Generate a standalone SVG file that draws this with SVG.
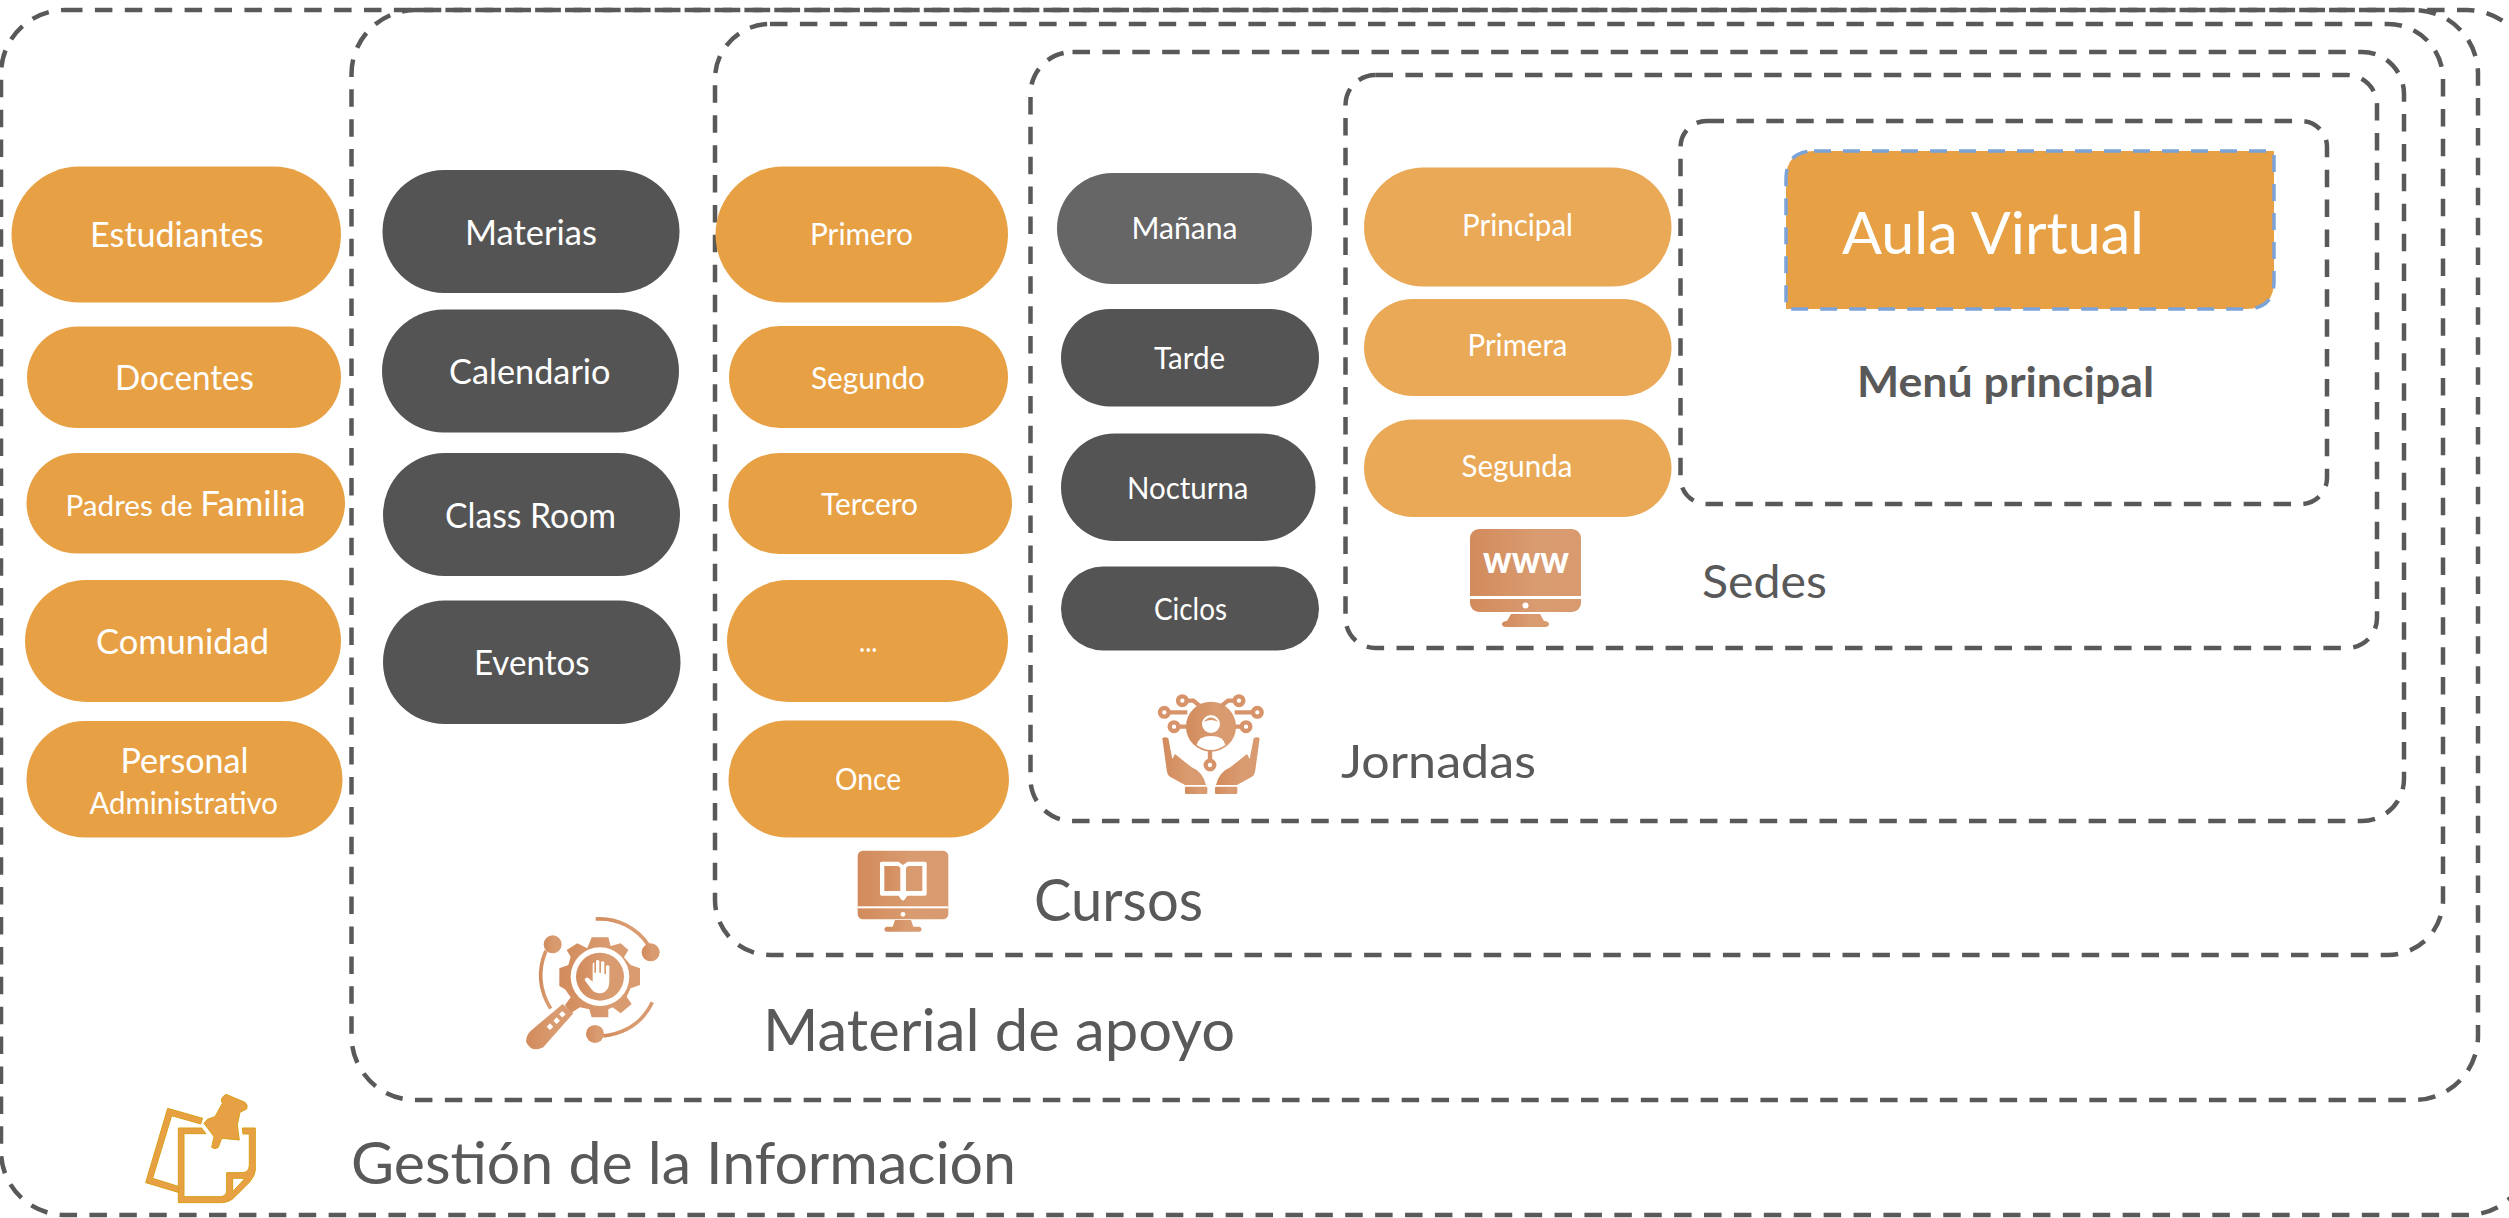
<svg xmlns="http://www.w3.org/2000/svg" width="2509" height="1218" viewBox="0 0 2509 1218">
<style>
text{font-family:"Lato","Liberation Sans",sans-serif;}
.frame{fill:none;stroke:#595959;stroke-width:4.5;stroke-dasharray:17.5 12.4;}
.o{fill:#E7A144;}.l{fill:#EAA957;}.d{fill:#545454;}.m{fill:#666666;}
.t{fill:#FFFFFF;font-size:35px;}
.s{fill:#FFFFFF;font-size:30px;}
.lab{fill:#595959;}
.ic{fill:url(#cop);}
.w{fill:#FFFFFF;}
.ln{fill:none;stroke:url(#cop);stroke-width:11;}
.pit{fill:#E7A144;stroke:#D8A018;stroke-width:3;}
</style>
<defs>
<linearGradient id="cop" x1="0" y1="0" x2="1" y2="0"><stop offset="0" stop-color="#D28B5C"/><stop offset="0.6" stop-color="#D99B70"/><stop offset="1" stop-color="#D89A6E"/></linearGradient>
</defs>
<rect width="2509" height="1218" fill="#FFFFFF"/>
<g id="connectors"></g>
<g id="gestion"><rect class="frame" x="1" y="10" width="2530" height="1205" rx="64"/>
<text class="lab" x="351" y="1184" font-size="59" textLength="665" lengthAdjust="spacingAndGlyphs">Gestión de la Información</text>
<g transform="translate(120,1060) scale(.3333)">
<path class="pit" d="M143 145L248 175L242 192L155 167L98 355L178 380V398L77 368Z"/>
<path class="pit" fill-rule="evenodd" d="M175 204H245L258 221H192V410H300Q320 410 320 390V338H365Q388 338 388 315V222H369L367 204H406V330Q406 345 390 365L345 410Q330 428 300 428H175ZM338 355H375L338 395Z"/>
<path class="pit" d="M318 103L375 127Q385 135 380 147L360 157L352 195L358 240L305 235L295 262Q285 270 275 262L282 230L252 190L262 178L285 170L307 130Q298 115 318 103Z"/>
</g></g>
<g id="material"><rect class="frame" x="351.5" y="10" width="2126.500" height="1090" rx="64"/>
<text class="lab" x="763" y="1051" font-size="59" textLength="472" lengthAdjust="spacingAndGlyphs">Material de apoyo</text>
<g transform="translate(500,900) scale(.3333)">
<path class="ic" d="M275 112H325L332 138L362 130L385 150L372 172L392 195L420 205V255L392 265L380 290L395 312L362 340L338 322L325 328V352H275L268 328L240 322L212 340L195 315L212 292L195 268L178 258V205L205 195L212 170L200 150L232 130L262 145Z"/>
<circle cx="300" cy="230" r="88" class="w"/>
<circle cx="300" cy="230" r="72" class="ic"/>
<path class="w" d="M278 195Q278 185 283 188V218H288V182Q293 178 298 182V218H303V186Q308 182 313 186V222H318V198Q323 194 328 198V245Q328 272 305 280H295Q280 278 270 262L254 240Q256 230 265 234L278 245Z"/>
<path class="ic" d="M188 312L220 340L130 442Q95 460 78 425Q78 405 95 390Z"/>
<g class="w"><rect x="143" y="373" width="14" height="14" transform="rotate(45 150 380)"/><rect x="163" y="355" width="14" height="14" transform="rotate(45 170 362)"/><rect x="180" y="336" width="14" height="14" transform="rotate(45 187 343)"/></g>
<path class="ln" d="M287 57A175 175 0 0 1 445 135"/><circle class="ic" cx="452" cy="157" r="27"/>
<circle class="ic" cx="158" cy="133" r="27"/><path class="ln" d="M138 152Q100 240 152 326"/>
<circle class="ic" cx="285" cy="402" r="27"/><path class="ln" d="M310 408Q415 395 457 307"/>
</g></g>
<g id="cursos"><rect class="frame" x="715" y="24" width="1728" height="931" rx="55"/>
<text class="lab" x="1034" y="921" font-size="58" textLength="169" lengthAdjust="spacingAndGlyphs">Cursos</text>
<g transform="translate(830,830) scale(.3333)">
<rect class="ic" x="83" y="62" width="272" height="206" rx="16"/>
<rect class="w" x="83" y="229" width="272" height="6"/>
<circle class="w" cx="219" cy="253" r="7"/>
<path class="ic" d="M195 270H243L250 290H268Q275 292 275 298Q275 305 268 305H170Q163 305 163 298Q163 292 170 290H188Z"/>
<path class="w" d="M150 100Q150 95 155 95H205L219 105L233 95H285Q290 95 290 100V192Q290 197 285 197H232L225 208Q219 215 213 208L206 197H155Q150 197 150 192Z"/>
<path class="ic" d="M163 108H205L211 113V183H163ZM277 108H235L228 113V183H277Z"/>
</g></g>
<g id="jornadas"><rect class="frame" x="1030.500" y="52" width="1373.500" height="769" rx="42"/>
<text class="lab" x="1341" y="778" font-size="47" textLength="195" lengthAdjust="spacingAndGlyphs">Jornadas</text>
<g transform="translate(1130,680) scale(.3333)">
<circle class="ic" cx="243" cy="140" r="75"/>
<circle class="w" cx="243" cy="132" r="27"/>
<path class="ic" d="M222 125Q243 100 264 125Q243 115 222 125Z"/>
<path class="w" d="M200 195Q205 168 243 168Q281 168 286 195Q243 225 200 195Z"/>
<g fill="none" stroke="#D7946A" stroke-width="13"><circle cx="157" cy="62" r="13"/><circle cx="327" cy="62" r="13"/><circle cx="103" cy="97" r="13"/><circle cx="382" cy="97" r="13"/><circle cx="132" cy="140" r="13"/><circle cx="348" cy="140" r="13"/><circle cx="240" cy="255" r="13"/>
<path d="M170 62H190L212 80M314 62H294L272 80M116 97H172M369 97H314M145 140H170M335 140H316M240 242V210"/></g>
<path class="ic" d="M97 175Q105 168 115 175L127 237L135 222L185 262Q218 275 228 315H165L120 290Q112 285 110 270Z"/>
<path class="ic" d="M389 175Q381 168 371 175L359 237L351 222L301 262Q268 275 258 315H321L366 290Q374 285 376 270Z"/>
<rect class="ic" x="165" y="320" width="67" height="22" rx="4"/><rect class="ic" x="255" y="320" width="67" height="22" rx="4"/>
</g></g>
<g id="sedes"><rect class="frame" x="1345.500" y="75" width="1031.500" height="573" rx="30"/>
<text class="lab" x="1702" y="598" font-size="47" textLength="125" lengthAdjust="spacingAndGlyphs">Sedes</text>
<g>
<rect class="ic" x="1470" y="529" width="111" height="83" rx="9"/>
<rect class="w" x="1470" y="596" width="111" height="3"/>
<circle class="w" cx="1525.500" cy="605.500" r="3"/>
<path class="ic" d="M1511 614H1540L1544 621H1545Q1549 622 1549 624Q1549 627 1545 627H1506Q1502 627 1502 624Q1502 622 1506 621H1507Z"/>
<text x="1483" y="573" font-size="38" font-weight="900" fill="#FFFFFF" textLength="86" lengthAdjust="spacingAndGlyphs">www</text>
</g></g>
<g id="menu"><rect class="frame" x="1680.500" y="121" width="646.500" height="383" rx="26"/>
<text class="lab" x="1857" y="397" font-size="42" font-weight="700" textLength="297" lengthAdjust="spacingAndGlyphs">Menú principal</text></g>
<g id="aula"><path d="M1814 151H2274V281Q2274 309 2246 309H1786V179Q1786 151 1814 151Z" fill="#E7A144" stroke="#7BA3D8" stroke-width="3.5" stroke-dasharray="17 12"/>
<text x="1842" y="254" font-size="59" fill="#FFFFFF" textLength="302" lengthAdjust="spacingAndGlyphs">Aula Virtual</text></g>

<g id="estudiantes"><rect class="o" x="11.500" y="166.500" width="329.500" height="136" rx="68"/><text class="t" x="90" y="247" textLength="173.500" lengthAdjust="spacingAndGlyphs">Estudiantes</text></g>
<g id="docentes"><rect class="o" x="27" y="326.500" width="314" height="101.500" rx="50.700"/><text class="t" x="115" y="390" textLength="139" lengthAdjust="spacingAndGlyphs">Docentes</text></g>
<g id="padres"><rect class="o" x="26.500" y="453" width="318.500" height="100.500" rx="50.200"/><text class="t" x="65.500" y="516" textLength="240" lengthAdjust="spacingAndGlyphs"><tspan font-size="29">Padres de </tspan><tspan font-size="34">Familia</tspan></text></g>
<g id="comunidad"><rect class="o" x="25" y="580" width="316" height="122" rx="61"/><text class="t" x="96" y="654" textLength="173" lengthAdjust="spacingAndGlyphs">Comunidad</text></g>
<g id="personal"><rect class="o" x="26.500" y="721" width="316" height="116.500" rx="58"/><text class="t" x="120.500" y="773" textLength="128" lengthAdjust="spacingAndGlyphs">Personal</text><text class="s" x="89.500" y="814" textLength="188.500" lengthAdjust="spacingAndGlyphs">Administrativo</text></g>

<g id="materias"><rect class="d" x="382.500" y="170" width="297" height="123" rx="61.500"/><text class="t" x="465" y="245" textLength="132" lengthAdjust="spacingAndGlyphs">Materias</text></g>
<g id="calendario"><rect class="d" x="382" y="309.500" width="297" height="123" rx="61.500"/><text class="t" x="449" y="384" textLength="161.500" lengthAdjust="spacingAndGlyphs">Calendario</text></g>
<g id="classroom"><rect class="d" x="383" y="453" width="297" height="123" rx="61.500"/><text class="t" x="445" y="528" textLength="171" lengthAdjust="spacingAndGlyphs">Class Room</text></g>
<g id="eventos"><rect class="d" x="383" y="600.500" width="297.500" height="123.500" rx="61.700"/><text class="t" x="474" y="675" textLength="115.500" lengthAdjust="spacingAndGlyphs">Eventos</text></g>

<g id="primero"><rect class="o" x="715.500" y="166.500" width="292.500" height="136" rx="68"/><text class="s" x="810" y="245" textLength="103" lengthAdjust="spacingAndGlyphs">Primero</text></g>
<g id="segundo"><rect class="o" x="729" y="326" width="279" height="102" rx="51"/><text class="s" x="811" y="389" textLength="114" lengthAdjust="spacingAndGlyphs">Segundo</text></g>
<g id="tercero"><rect class="o" x="728.500" y="453" width="283.500" height="101" rx="50.500"/><text class="s" x="821" y="515" textLength="97" lengthAdjust="spacingAndGlyphs">Tercero</text></g>
<g id="puntos"><rect class="o" x="727" y="580" width="281" height="122" rx="61"/><text class="s" x="859" y="652" textLength="18.500" lengthAdjust="spacingAndGlyphs">...</text></g>
<g id="once"><rect class="o" x="728.500" y="720.500" width="280.500" height="117" rx="58.500"/><text class="s" x="835" y="790" textLength="66" lengthAdjust="spacingAndGlyphs">Once</text></g>

<g id="manana"><rect class="m" x="1057" y="173" width="255" height="111" rx="55.500"/><text class="s" x="1131.500" y="239" textLength="106" lengthAdjust="spacingAndGlyphs">Mañana</text></g>
<g id="tarde"><rect class="d" x="1061" y="309" width="258" height="97.500" rx="48.700"/><text class="s" x="1154" y="369" textLength="71" lengthAdjust="spacingAndGlyphs">Tarde</text></g>
<g id="nocturna"><rect class="d" x="1061" y="433.500" width="254.500" height="107.500" rx="53.700"/><text class="s" x="1127" y="498.500" textLength="121.500" lengthAdjust="spacingAndGlyphs">Nocturna</text></g>
<g id="ciclos"><rect class="d" x="1061" y="566.500" width="258" height="84" rx="42"/><text class="s" x="1154" y="620" textLength="73" lengthAdjust="spacingAndGlyphs">Ciclos</text></g>

<g id="principal"><rect class="l" x="1364" y="167.500" width="307.500" height="119" rx="59.500"/><text class="s" x="1462" y="236" textLength="111" lengthAdjust="spacingAndGlyphs">Principal</text></g>
<g id="primera"><rect class="l" x="1364" y="299" width="307.500" height="97" rx="48.500"/><text class="s" x="1467.500" y="355.500" textLength="100" lengthAdjust="spacingAndGlyphs">Primera</text></g>
<g id="segunda"><rect class="l" x="1364" y="419.500" width="307.500" height="97.500" rx="48.700"/><text class="s" x="1461.500" y="476.500" textLength="111" lengthAdjust="spacingAndGlyphs">Segunda</text></g>
</svg>
